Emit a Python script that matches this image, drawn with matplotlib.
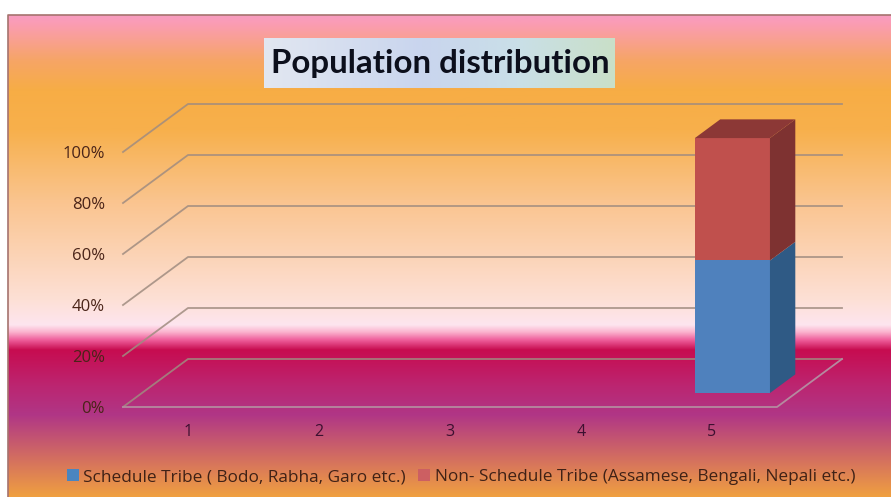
import matplotlib

matplotlib.use("Agg")
import matplotlib.pyplot as plt
import numpy as np
from matplotlib.colors import LinearSegmentedColormap
from matplotlib.patches import Patch, Polygon

WIDTH, HEIGHT = 891, 497

categories = [1, 2, 3, 4, 5]
schedule_tribe = [0, 0, 0, 0, 52]
non_schedule_tribe = [0, 0, 0, 0, 48]
percent_ticks = [0, 20, 40, 60, 80, 100]
percent_labels = ["0%", "20%", "40%", "60%", "80%", "100%"]
series_names = [
    "Schedule Tribe ( Bodo, Rabha, Garo etc.)",
    "Non- Schedule Tribe (Assamese, Bengali, Nepali etc.)",
]
title_text = "Population distribution"

# vertical background stops, pixel row from the top and colour
bg_rows = [15, 22, 60, 90, 130, 200, 300, 325, 332, 340, 350, 385, 415, 460, 497]
bg_colors = ["#f79cc0", "#fb9cb6", "#f6a566", "#f7ad45", "#f7b04c", "#fac48e", "#fde0d6", "#fee5ef",
             "#fbb4cf", "#ef5f9c", "#c70c50", "#bc2570", "#b03686", "#d4705f", "#f0a040"]

plt.rcParams["font.family"] = ["Open Sans", "DejaVu Sans"]
fig = plt.figure(figsize=(WIDTH / 100, HEIGHT / 100), dpi=100, facecolor="white")

# background layer works in pixels
bg = fig.add_axes([0, 0, 1, 1], zorder=0)
bg.set_xlim(0, WIDTH)
bg.set_ylim(HEIGHT, 0)
bg.axis("off")
stops = [(r - bg_rows[0]) / (bg_rows[-1] - bg_rows[0]) for r in bg_rows]
bg_map = LinearSegmentedColormap.from_list("bg", list(zip(stops, bg_colors)), N=512)
bg.imshow(np.linspace(0, 1, 512).reshape(-1, 1), cmap=bg_map, aspect="auto",
          extent=(8, WIDTH, bg_rows[-1], bg_rows[0]), interpolation="bilinear")
bg.plot([8, 8, WIDTH], [HEIGHT, 15, 15], color="#a5736e", lw=1.2, solid_capstyle="butt")

box_map = LinearSegmentedColormap.from_list(
    "box", [(0, "#e2e7f1"), (0.45, "#c9d5ee"), (0.72, "#c9dfe8"), (1, "#c9e0c8")])
bg.imshow(np.linspace(0, 1, 256).reshape(1, -1), cmap=box_map, aspect="auto",
          extent=(264, 615, 88, 38))
bg.set_xlim(0, WIDTH)
bg.set_ylim(HEIGHT, 0)
bg.text(440, 63, title_text, ha="center", va="center", fontsize=23.8, fontweight="bold",
        family=["Lato", "DejaVu Sans"], color="#0c0f1c")

# front plane of the 3D box: x in categories, y in percent
left, right, base, top = 123, 777, 407, 152
ax = fig.add_axes([left / WIDTH, 1 - base / HEIGHT, (right - left) / WIDTH, (base - top) / HEIGHT],
                  zorder=1)
ax.patch.set_alpha(0)
ax.set_xlim(0.5, 5.5)
ax.set_ylim(0, 100)
for spine in ax.spines.values():
    spine.set_visible(False)

# one full unit of depth moves a point this far, in data units
depth_x = 65 / ((right - left) / 5)
depth_y = 48 / ((base - top) / 100)


def project(x, y, depth):
    return (x + depth * depth_x, y + depth * depth_y)


grid_color = "#a08c80"
for tick in percent_ticks:
    line = [project(0.5, tick, 0), project(0.5, tick, 1), project(5.5, tick, 1)]
    ax.plot(*zip(*line), color=grid_color, lw=1.3, clip_on=False, zorder=1, alpha=0.85)
floor = [project(0.5, 0, 0), project(5.5, 0, 0), project(5.5, 0, 1)]
ax.plot(*zip(*floor), color="#b58a9f", lw=1.3, clip_on=False, zorder=1)

bar_half = 0.287
bar_shift = 0.015
near, far = 0.29, 0.68


def draw_block(cat, low, high, front, side, cap=None):
    x0, x1 = cat + bar_shift - bar_half, cat + bar_shift + bar_half
    ax.add_patch(Polygon([project(x0, low, near), project(x1, low, near),
                          project(x1, high, near), project(x0, high, near)],
                         fc=front, ec="none", clip_on=False, zorder=3))
    ax.add_patch(Polygon([project(x1, low, near), project(x1, low, far),
                          project(x1, high, far), project(x1, high, near)],
                         fc=side, ec="none", clip_on=False, zorder=3))
    if cap:
        ax.add_patch(Polygon([project(x0, high, near), project(x1, high, near),
                              project(x1, high, far), project(x0, high, far)],
                             fc=cap, ec="none", clip_on=False, zorder=3))


for cat, st, nst in zip(categories, schedule_tribe, non_schedule_tribe):
    if st + nst == 0:
        continue
    draw_block(cat, 0, st, "#4f81bd", "#2f5a85")
    draw_block(cat, st, st + nst, "#c0504d", "#7e3231", cap="#8c3836")

ax.set_xticks(categories)
ax.set_xticklabels(categories)
ax.set_yticks(percent_ticks)
ax.set_yticklabels(percent_labels)
ax.tick_params(axis="x", length=0, pad=12, labelsize=11.5, labelcolor="#3c1030")
ax.tick_params(axis="y", length=0, pad=13, labelsize=12, labelcolor="#4a2418")

handles = [Patch(fc="#4a85c0", ec="none"), Patch(fc="#cc5f62", ec="none")]
fig.legend(handles, series_names, loc="center", bbox_to_anchor=(461 / WIDTH, 1 - 477 / HEIGHT),
           ncol=2, frameon=False, fontsize=12.45, labelcolor="#3f2116", handlelength=0.7, handleheight=0.7,
           handletextpad=0.25, columnspacing=0.7, borderpad=0)

fig.savefig("out.png", dpi=100)
